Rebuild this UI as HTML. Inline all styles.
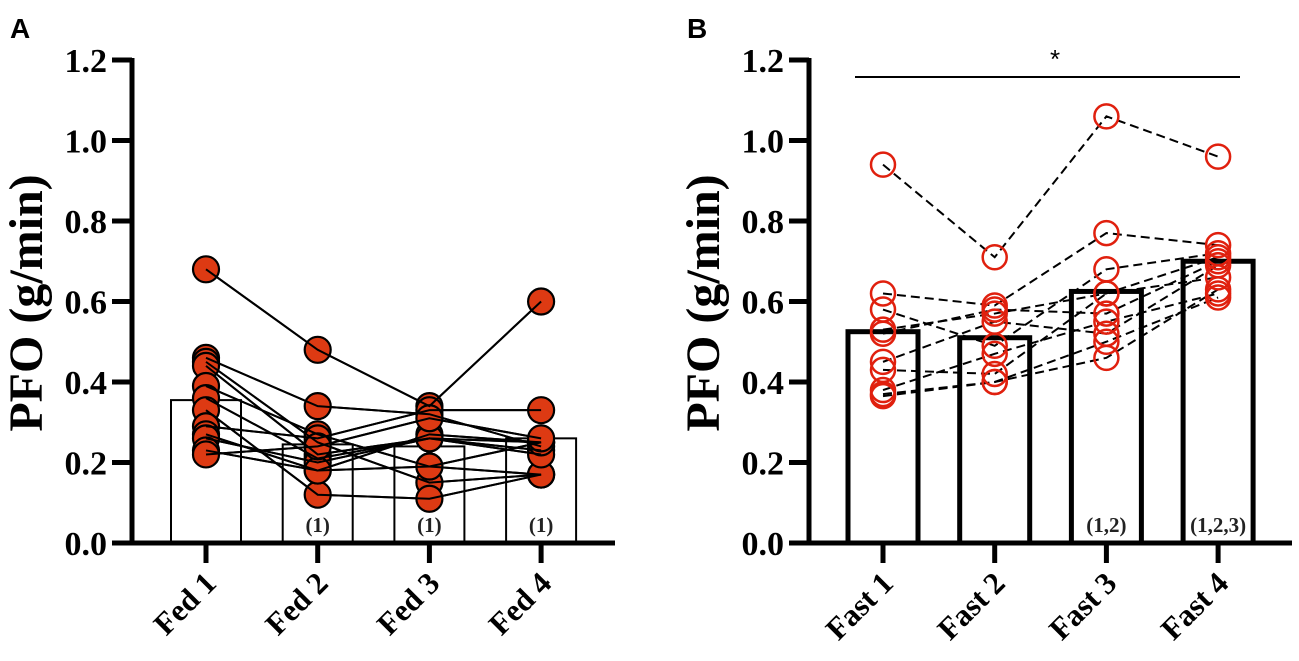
<!DOCTYPE html>
<html><head><meta charset="utf-8"><style>
html,body{margin:0;padding:0;background:#fff;}
svg{display:block;font-family:"Liberation Serif",serif;}
</style></head><body>
<svg id="chart" width="1299" height="661" viewBox="0 0 1299 661" xmlns="http://www.w3.org/2000/svg"></svg>
<script>
const ticks = [0.0, 0.2, 0.4, 0.6, 0.8, 1.0, 1.2];
const tickLabels = ["0.0","0.2","0.4","0.6","0.8","1.0","1.2"];
const fedCategories = ["Fed 1","Fed 2","Fed 3","Fed 4"];
const fastCategories = ["Fast 1","Fast 2","Fast 3","Fast 4"];
const fedMeans = [0.355, 0.245, 0.24, 0.26];
const fastMeans = [0.525, 0.51, 0.625, 0.70];
const fedAnnot = ["", "(1)", "(1)", "(1)"];
const fastAnnot = ["", "", "(1,2)", "(1,2,3)"];
const fedSubjects = [
 [0.68,0.48,0.34,0.60],[0.46,0.34,0.32,0.24],[0.45,0.25,0.15,0.17],[0.44,0.22,0.26,0.25],
 [0.39,0.27,0.19,0.17],[0.36,0.21,0.26,0.23],[0.33,0.12,0.11,0.17],[0.29,0.26,0.33,0.33],
 [0.27,0.18,0.27,0.25],[0.26,0.20,0.26,0.22],[0.23,0.18,0.19,0.25],[0.22,0.24,0.31,0.26]
];
const fastSubjects = [
 [0.94,0.71,1.06,0.96],[0.62,0.59,0.77,0.74],[0.58,0.49,0.68,0.72],[0.53,0.57,0.62,0.71],
 [0.52,0.58,0.57,0.70],[0.45,0.55,0.52,0.69],[0.43,0.42,0.62,0.66],[0.38,0.47,0.55,0.62],
 [0.37,0.40,0.50,0.61],[0.365,0.40,0.46,0.63]
];

const NS="http://www.w3.org/2000/svg";
const svg=document.getElementById('chart');
function mk(tag,attrs,parent,text){const e=document.createElementNS(NS,tag);for(const k in attrs)e.setAttribute(k,attrs[k]);if(text!==undefined)e.textContent=text;(parent||svg).appendChild(e);return e;}
const Y0=543, Y1=60;
function yScale(v){return Y0-(v/1.2)*(Y0-Y1);}

function panel(off, letter, cats, means, subjects, annots, filled){
  const g=mk('g',{});
  
  
  const xs=i=>206+off+i*111.7;
  const lab=mk('text',{x:10+off,y:38,'font-family':'Liberation Sans, sans-serif','font-weight':'bold','font-size':'28'},g,letter);
  
  
  means.forEach((m,i)=>{
    const b=mk('rect',{x:xs(i)-35,y:yScale(m),width:70,height:Y0-yScale(m),fill:'#fff',stroke:'#000','stroke-width':filled?2:5},g);
    
    
  });
  annots.forEach((a,i)=>{
    if(!a)return;
    const t=mk('text',{x:xs(i),y:532,'text-anchor':'middle','font-weight':'bold','font-size':'21',fill:'#222'},g,a);
    
    
  });
  subjects.forEach(s=>{
    const pts=s.map((v,i)=>xs(i)+','+yScale(v)).join(' ');
    const l=mk('polyline',{points:pts,fill:'none',stroke:'#000','stroke-width':2,'stroke-dasharray':filled?'none':'9,5'},g);
    
    
  });
  subjects.forEach(s=>{
    s.forEach((v,i)=>{
      const c=mk('circle',{cx:xs(i),cy:yScale(v),r:filled?13:12,fill:filled?'#dd3a13':'none',stroke:filled?'#000':'#e0200e','stroke-width':filled?2.2:2.5},g);
      
      
    });
  });
  if(filled){subjects.forEach(s=>{mk('polyline',{points:s.map((v,i)=>xs(i)+','+yScale(v)).join(' '),fill:'none',stroke:'#000','stroke-width':2},g);});}
  const ax=132+off;
  mk('line',{x1:ax,y1:Y1-2,x2:ax,y2:Y0+2,stroke:'#000','stroke-width':5},g);
  mk('line',{x1:ax-2,y1:Y0,x2:615+off,y2:Y0,stroke:'#000','stroke-width':5},g);
  ticks.forEach((t,i)=>{
    mk('line',{x1:ax-20,y1:yScale(t),x2:ax,y2:yScale(t),stroke:'#000','stroke-width':5},g);
    const tl=mk('text',{x:ax-25,y:yScale(t)+12,'text-anchor':'end','font-weight':'bold','font-size':'34'},g,tickLabels[i]);
    
    
  });
  cats.forEach((c,i)=>{
    mk('line',{x1:xs(i),y1:Y0,x2:xs(i),y2:Y0+20,stroke:'#000','stroke-width':5},g);
    const t=mk('text',{x:xs(i)+12,y:Y0+42,'text-anchor':'end','font-weight':'bold','font-size':'31',transform:`rotate(-45 ${xs(i)+12} ${Y0+42})`},g,c);
    
    
  });
  const yt=mk('text',{x:0,y:0,'text-anchor':'middle','font-weight':'bold','font-size':'48',transform:`translate(${42+off} 303) rotate(-90)`},g,'PFO (g/min)');
  
  
  return g;
}
panel(0,'A',fedCategories,fedMeans,fedSubjects,fedAnnot,true);
panel(677,'B',fastCategories,fastMeans,fastSubjects,fastAnnot,false);
const sl=mk('line',{x1:855,y1:77,x2:1240,y2:77,stroke:'#000','stroke-width':2});


const st=mk('text',{x:1055,y:68,'text-anchor':'middle','font-family':'Liberation Sans, sans-serif','font-size':'26'},svg,'*');


</script>
</body></html>
